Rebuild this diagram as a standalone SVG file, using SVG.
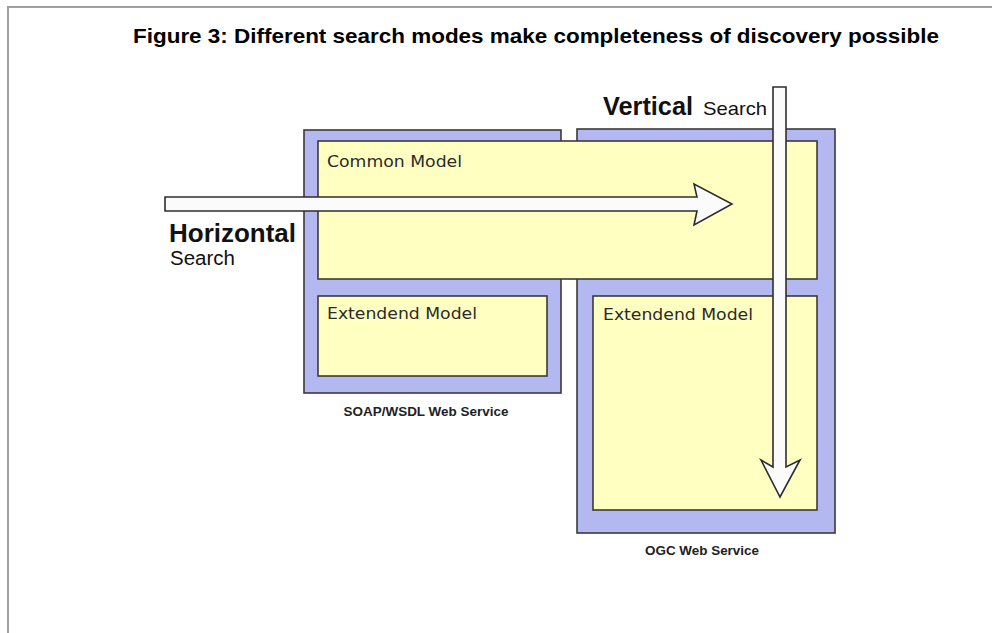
<svg xmlns="http://www.w3.org/2000/svg" width="992" height="633" viewBox="0 0 992 633">
  <style>
    .frame { fill: none; stroke: #a0a0a0; stroke-width: 2; }
    .service { fill: #b3b8f0; stroke: #3a3a3a; stroke-width: 1.6; }
    .model { fill: #ffffc2; stroke: #3a3a3a; stroke-width: 1.6; }
    .arrow { fill: #fbfbfb; stroke: #2e2e2e; stroke-width: 1.6; stroke-linejoin: miter; }
    .title { font-family: "Liberation Sans", Arial, sans-serif; font-weight: bold; font-size: 21px; fill: #000; }
    .model-label { font-family: "DejaVu Sans", Verdana, sans-serif; font-size: 16px; fill: #2a2a2a; }
    .service-label { font-family: "Liberation Sans", Arial, sans-serif; font-weight: bold; font-size: 13px; fill: #222; }
    .mode-strong { font-family: "Liberation Sans", Arial, sans-serif; font-weight: bold; fill: #111; }
    .mode-weak { font-family: "Liberation Sans", Arial, sans-serif; fill: #111; }
  </style>

  <rect x="0" y="0" width="992" height="633" fill="#ffffff"/>
  <!-- page frame: top and left rules -->
  <path class="frame" d="M 8 633 L 8 7 L 992 7"/>

  <text class="title" x="536" y="43" text-anchor="middle" textLength="806" lengthAdjust="spacingAndGlyphs">Figure 3: Different search modes make completeness of discovery possible</text>

  <g id="soap-service">
    <rect class="service" x="304" y="130" width="257" height="263"/>
    <text class="service-label" x="426" y="416" text-anchor="middle" textLength="165" lengthAdjust="spacingAndGlyphs">SOAP/WSDL Web Service</text>
  </g>

  <g id="ogc-service">
    <rect class="service" x="577" y="129" width="258" height="404"/>
    <text class="service-label" x="702" y="555" text-anchor="middle" textLength="114" lengthAdjust="spacingAndGlyphs">OGC Web Service</text>
  </g>

  <g id="common-model">
    <rect class="model" x="318" y="141" width="499" height="138"/>
    <text class="model-label" x="327" y="167" textLength="135" lengthAdjust="spacingAndGlyphs">Common Model</text>
  </g>

  <g id="soap-extended-model">
    <rect class="model" x="318" y="296" width="229" height="80"/>
    <text class="model-label" x="327" y="319" textLength="150" lengthAdjust="spacingAndGlyphs">Extendend Model</text>
  </g>

  <g id="ogc-extended-model">
    <rect class="model" x="593" y="296" width="224" height="214"/>
    <text class="model-label" x="603" y="320" textLength="150" lengthAdjust="spacingAndGlyphs">Extendend Model</text>
  </g>

  <g id="horizontal-search">
    <text class="mode-strong" x="169" y="242" font-size="26" textLength="127" lengthAdjust="spacingAndGlyphs">Horizontal</text>
    <text class="mode-weak" x="170" y="265" font-size="20" textLength="65" lengthAdjust="spacingAndGlyphs">Search</text>
  </g>

  <g id="vertical-search">
    <text class="mode-strong" x="603" y="115" font-size="25" textLength="90" lengthAdjust="spacingAndGlyphs">Vertical</text>
    <text class="mode-weak" x="703" y="115" font-size="19" textLength="64" lengthAdjust="spacingAndGlyphs">Search</text>
  </g>

  <g id="connectors">
    <!-- horizontal search arrow across the common model -->
    <polygon class="arrow" points="165,197 697,197 694,184 732,204 694,225 697,211 165,211"/>
    <!-- vertical search arrow down through the OGC service -->
    <polygon class="arrow" points="773,87 786,87 786,467 800,460 780,497 761,460 773,467"/>
  </g>
</svg>
